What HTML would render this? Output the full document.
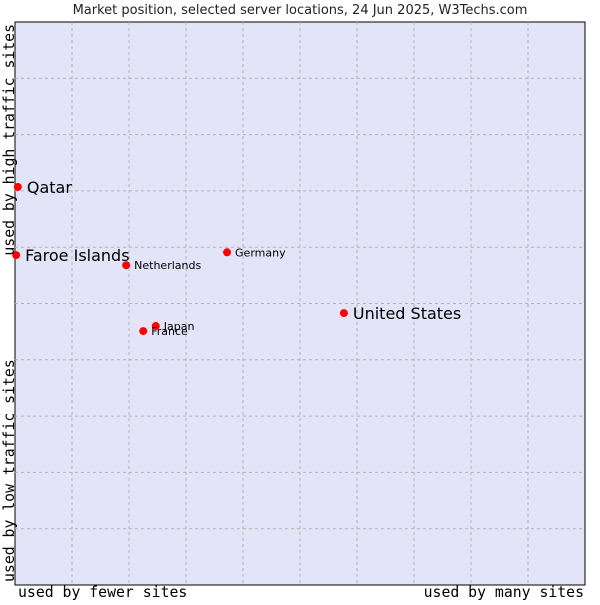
<!DOCTYPE html>
<html><head><meta charset="utf-8"><style>
body{margin:0;background:#fff;width:600px;height:600px;overflow:hidden}
svg{font-family:"DejaVu Sans","Liberation Sans",sans-serif}
</style></head><body>
<svg id="c" width="600" height="600">
<text x="300" y="14" text-anchor="middle" font-size="13" fill="#222">Market position, selected server locations, 24 Jun 2025, W3Techs.com</text>
<rect x="15" y="22" width="570" height="563" fill="#e4e4f8" stroke="#000" stroke-width="1"/>
<g id="grid"></g>
<g id="pts"></g>
<text x="18" y="597" font-family="DejaVu Sans Mono,Liberation Mono,monospace" font-size="14.8" fill="#000">used by fewer sites</text>
<text x="584" y="597" text-anchor="end" font-family="DejaVu Sans Mono,Liberation Mono,monospace" font-size="14.8" fill="#000">used by many sites</text>
<text transform="translate(14,582) rotate(-90)" font-family="DejaVu Sans Mono,Liberation Mono,monospace" font-size="14.8" fill="#000">used by low traffic sites</text>
<text transform="translate(14,24) rotate(-90)" text-anchor="end" font-family="DejaVu Sans Mono,Liberation Mono,monospace" font-size="14.8" fill="#000">used by high traffic sites</text>
</svg>
<script>
const names=["Qatar","Faroe Islands","Netherlands","Germany","United States","Japan","France"];
const xs=[0.5,0.2,19.5,37.2,57.7,24.7,22.5];
const ys=[70.7,58.6,56.8,59.1,48.3,46.0,45.1];
const big=[true,true,false,false,true,false,false];
const L=15,R=585,T=22,B=585;
const sx=v=>L+v/100*(R-L), sy=v=>B-v/100*(B-T);
const ns="http://www.w3.org/2000/svg";
const g=document.getElementById('grid'), p=document.getElementById('pts');
for(let i=1;i<10;i++){
  let l=document.createElementNS(ns,'line');
  
  
  l.setAttribute('x1',sx(i*10));l.setAttribute('x2',sx(i*10));l.setAttribute('y1',T);l.setAttribute('y2',B);
  l.setAttribute('stroke','#b4b4b4');l.setAttribute('stroke-dasharray','3,3');g.appendChild(l);
  let m=document.createElementNS(ns,'line');
  
  
  m.setAttribute('y1',sy(i*10));m.setAttribute('y2',sy(i*10));m.setAttribute('x1',L);m.setAttribute('x2',R);
  m.setAttribute('stroke','#b4b4b4');m.setAttribute('stroke-dasharray','3,3');g.appendChild(m);
}
names.forEach((n,i)=>{
  const x=sx(xs[i]),y=sy(ys[i]);
  let c=document.createElementNS(ns,'circle');
  
  
  c.setAttribute('cx',x);c.setAttribute('cy',y);c.setAttribute('r',4);c.setAttribute('fill','#f00');p.appendChild(c);
  let t=document.createElementNS(ns,'text');
  
  
  t.setAttribute('x',x+(big[i]?9:8));t.setAttribute('y',y+(big[i]?6:4));
  t.setAttribute('font-size',big[i]?16:11);t.setAttribute('fill','#000');
  t.textContent=n;p.appendChild(t);
});
</script>
</body></html>
